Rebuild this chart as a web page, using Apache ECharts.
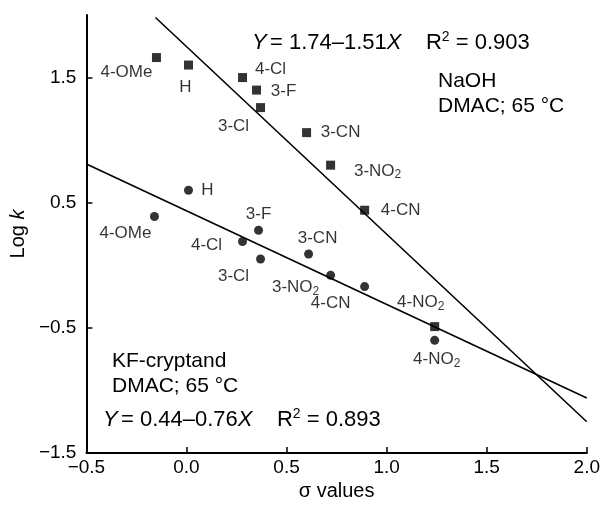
<!DOCTYPE html>
<html>
<head>
<meta charset="utf-8">
<script src="https://cdn.jsdelivr.net/npm/echarts@6/dist/echarts.min.js"></script>
<style>
html,body{margin:0;padding:0;background:#fff;}
#c{width:603px;height:507px;}
</style>
</head>
<body>
<div id="c"></div>
<script>
// ---- data ----
var naohNames = ['4-OMe','H','4-Cl','3-F','3-Cl','3-CN','3-NO2','4-CN','4-NO2'];
var naohSigma = [-0.15, 0.01, 0.28, 0.35, 0.37, 0.60, 0.72, 0.89, 1.24];
var naohLogK  = [1.66, 1.60, 1.50, 1.40, 1.26, 1.06, 0.80, 0.44, -0.49];

var kfNames = ['4-OMe','H','3-F','4-Cl','3-Cl','3-CN','3-NO2','4-CN','4-NO2'];
var kfSigma = [-0.16, 0.01, 0.36, 0.28, 0.37, 0.61, 0.72, 0.89, 1.24];
var kfLogK  = [0.39, 0.60, 0.28, 0.19, 0.05, 0.09, -0.08, -0.17, -0.60];

var naohFitX = [-0.155, 2.0];
var naohFitY = [1.98, -1.25];
var kfFitX = [-0.5, 2.0];
var kfFitY = [0.81, -1.06];

var xTicks = [-0.5, 0.0, 0.5, 1.0, 1.5, 2.0];
var yTicks = [-1.5, -0.5, 0.5, 1.5];

// ---- label placement (pixel offsets from marker) ----
var naohOffsets = {'4-OMe':[-30,15],'H':[-3,22],'4-Cl':[28,-8],'3-F':[27,1],'3-Cl':[-27,19],
  '3-CN':[34,0],'3-NO2':[47,6],'4-CN':[36,0],'4-NO2':[-14,-24]};
var kfOffsets = {'4-OMe':[-29,17],'H':[19,0],'3-F':[0,-16],'4-Cl':[-36,4],'3-Cl':[-27,17],
  '3-CN':[9,-16],'3-NO2':[-35,12],'4-CN':[-34,17],'4-NO2':[2,19]};

var FONT = '"Liberation Sans", Arial, Helvetica, sans-serif';
function fmtName(n){ return n.replace('NO2','NO{sub|2}'); }
var labelRich = { sub: { fontSize:12, fontFamily:FONT, color:'#000', padding:[8,0,0,0] } };

function buildPoints(names, xs, ys, offs){
  return names.map(function(n,i){
    return { value:[xs[i], ys[i]], name:n,
      label:{ show:true, position:'inside', offset:offs[n], formatter: fmtName(n),
        color:'#000', fontSize:17, fontFamily:FONT, rich: labelRich } };
  });
}
function pairs(xs, ys){ return xs.map(function(x,i){ return [x, ys[i]]; }); }
function fmtTick(v){ var s = Math.abs(v).toFixed(1); return v < 0 ? '\u2212' + s : s; }

var chart = echarts.init(document.getElementById('c'), null, {renderer:'canvas'});
var EQ = 22, TX = 21;
var eqRich = {
  i: { fontStyle:'italic', fontSize:EQ, fontFamily:FONT, fill:'#000', color:'#000' },
  n: { fontSize:EQ, fontFamily:FONT, fill:'#000', color:'#000' },
  sup: { fontSize:14, fontFamily:FONT, fill:'#000', color:'#000', padding:[0,0,11,0] }
};
chart.setOption({
  animation:false,
  backgroundColor:'#fff',
  grid:{ left:85, right:16, top:15, bottom:54, containLabel:false },
  xAxis:{
    type:'value', min:-0.5, max:2.0,
    name:'\u03c3 values', nameLocation:'middle', nameGap:27,
    nameTextStyle:{ fontSize:20, fontFamily:FONT, color:'#000' },
    axisLine:{ show:true, onZero:false, lineStyle:{ color:'#000', width:2 } },
    axisTick:{ show:true, inside:true, length:6, customValues:xTicks, lineStyle:{ color:'#000', width:1.5 } },
    axisLabel:{ customValues:xTicks, formatter:fmtTick, fontSize:19, fontFamily:FONT, color:'#000', margin:5 },
    splitLine:{ show:false }
  },
  yAxis:{
    type:'value', min:-1.5, max:2.0,
    name:'Log {k|k}', nameLocation:'middle', nameGap:58, nameRotate:90,
    nameTextStyle:{ fontSize:20, fontFamily:FONT, color:'#000',
      rich:{ k:{ fontStyle:'italic', fontSize:20, fontFamily:FONT, color:'#000' } } },
    axisLine:{ show:true, onZero:false, lineStyle:{ color:'#000', width:2 } },
    axisTick:{ show:true, inside:true, length:6, customValues:yTicks, lineStyle:{ color:'#000', width:1.5 } },
    axisLabel:{ customValues:yTicks, formatter:fmtTick, fontSize:19, fontFamily:FONT, color:'#000', margin:10 },
    splitLine:{ show:false }
  },
  series:[
    { type:'line', data:pairs(naohFitX, naohFitY), symbol:'none', silent:true,
      lineStyle:{ color:'#000', width:1.6 }, z:2 },
    { type:'line', data:pairs(kfFitX, kfFitY), symbol:'none', silent:true,
      lineStyle:{ color:'#000', width:1.6 }, z:2 },
    { type:'scatter', symbol:'rect', symbolSize:9, itemStyle:{ color:'#000' }, z:3,
      data:buildPoints(naohNames, naohSigma, naohLogK, naohOffsets) },
    { type:'scatter', symbol:'circle', symbolSize:9, itemStyle:{ color:'#000' }, z:3,
      data:buildPoints(kfNames, kfSigma, kfLogK, kfOffsets) }
  ],
  graphic:[
    { type:'text', left:252, top:30, style:{ text:'{i|Y} {n|= 1.74\u20131.51}{i|X}{n|    R}{sup|2}{n| = 0.903}', rich:eqRich } },
    { type:'text', left:438, top:71, style:{ text:'NaOH', fontSize:TX, fontFamily:FONT, fill:'#000' } },
    { type:'text', left:438, top:96, style:{ text:'DMAC; 65 \u00b0C', fontSize:TX, fontFamily:FONT, fill:'#000' } },
    { type:'text', left:112, top:351, style:{ text:'KF-cryptand', fontSize:TX, fontFamily:FONT, fill:'#000' } },
    { type:'text', left:112, top:376, style:{ text:'DMAC; 65 \u00b0C', fontSize:TX, fontFamily:FONT, fill:'#000' } },
    { type:'text', left:103, top:407, style:{ text:'{i|Y} {n|= 0.44\u20130.76}{i|X}{n|    R}{sup|2}{n| = 0.893}', rich:eqRich } }
  ]
});
</script>
</body>
</html>
